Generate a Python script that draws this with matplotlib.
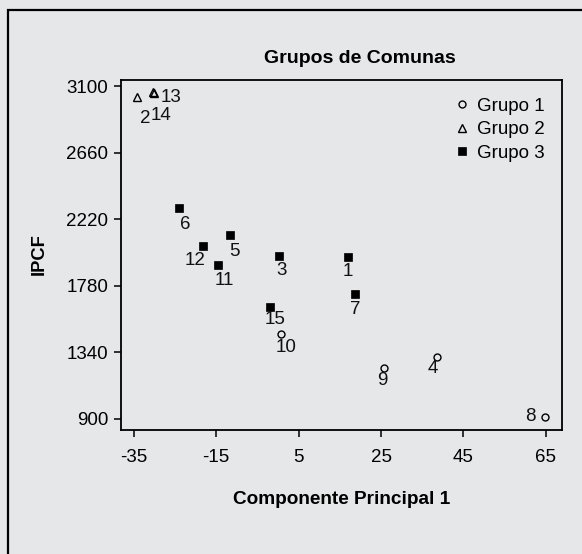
import matplotlib
matplotlib.use("Agg")
import matplotlib.pyplot as plt
from matplotlib.patches import Rectangle

# comunas, componente principal 1, ipcf and group of each one
comunas = [1, 2, 3, 4, 5, 6, 7, 8, 9, 10, 11, 12, 13, 14, 15]
pc1 = [16.9, -34.3, 0.2, 38.5, -11.6, -24.0, 18.8, 64.8, 25.8, 0.8,
       -14.6, -18.1, -30.3, -30.1, -1.9]
ipcf = [1972, 3025, 1977, 1312, 2114, 2292, 1724, 915, 1235, 1460,
        1915, 2041, 3063, 3057, 1642]
grupo = [3, 2, 3, 1, 3, 3, 3, 1, 1, 1, 3, 3, 2, 2, 3]

x_ticks = [-35, -15, 5, 25, 45, 65]
y_ticks = [900, 1340, 1780, 2220, 2660, 3100]

# label offsets in pixels (right, down), same order as comunas
label_off = [(0, 15), (9, 21), (3, 15), (-4, 12), (4, 16), (6, 16), (0, 15),
             (-15, 0), (-2, 12), (5, 13), (7, 15), (-8, 14), (18, 6), (7, 23),
             (5, 13)]

bg = "#e6e7e8"
plt.rcParams["font.family"] = ["Liberation Sans", "DejaVu Sans"]
plt.rcParams["axes.unicode_minus"] = False

fig = plt.figure(figsize=(5.82, 5.54), dpi=100, facecolor=bg)
ax = fig.add_axes([120.7 / 582, 1 - 430 / 554, (562 - 120.7) / 582, (430 - 80) / 554])
ax.set_facecolor(bg)

styles = {
    1: dict(marker="o", markersize=5, markerfacecolor="none", markeredgecolor="black", markeredgewidth=1.0),
    2: dict(marker="^", markersize=6, markerfacecolor="none", markeredgecolor="black", markeredgewidth=1.0),
    3: dict(marker="s", markersize=5.3, markerfacecolor="black", markeredgecolor="black", markeredgewidth=0.5),
}

for g in [1, 2, 3]:
    xs = [x for x, gg in zip(pc1, grupo) if gg == g]
    ys = [y for y, gg in zip(ipcf, grupo) if gg == g]
    ax.plot(xs, ys, linestyle="none", label="Grupo %d" % g, **styles[g])

for c, x, y, off in zip(comunas, pc1, ipcf, label_off):
    ax.annotate(str(c), (x, y), xytext=(off[0] * 0.72, -off[1] * 0.72),
                textcoords="offset points", ha="center", va="center",
                fontsize=13.5, color="#111111")

ax.set_xlim(-38.15, 68.9)
ax.set_ylim(827, 3140)
ax.set_xticks(x_ticks)
ax.set_yticks(y_ticks)
ax.tick_params(direction="out", length=5, width=1.1, labelsize=13.5, colors="black", pad=4)
ax.tick_params(axis="x", pad=8.5)
for s in ax.spines.values():
    s.set_linewidth(1.3)

ax.legend(loc="upper right", frameon=False, fontsize=13.5, handlelength=0.6,
          handletextpad=0.5, labelspacing=0.33, borderaxespad=0.5,
          bbox_to_anchor=(1.0, 0.997))

fig.text(359.4 / 582, 1 - 58.3 / 554, "Grupos de Comunas", ha="center", va="center",
         fontsize=14, fontweight="bold")
fig.text(342 / 582, 1 - 500 / 554, "Componente Principal 1", ha="center", va="center",
         fontsize=13.7, fontweight="bold")
fig.text(39 / 582, 1 - 254 / 554, "IPCF", ha="center", va="center", rotation=90,
         fontsize=13.2, fontweight="bold")

# outer frame, cut by the right and bottom edges of the picture
fig.add_artist(Rectangle((8.3 / 582, -0.1), 1.2, 1.1 - 10 / 554, transform=fig.transFigure,
                         fill=False, edgecolor="black", linewidth=1.6, clip_on=False))

fig.savefig("out.png", dpi=100, facecolor=bg)
